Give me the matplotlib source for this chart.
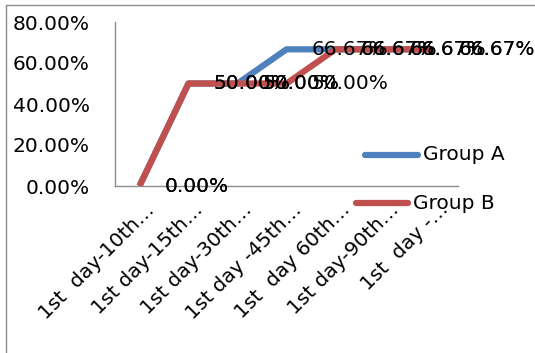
import matplotlib
matplotlib.use('Agg')
import matplotlib.pyplot as plt
from matplotlib.lines import Line2D
from matplotlib.transforms import ScaledTranslation

categories = ['1st  day-10th\u2026', '1st day-15th\u2026', '1st day-30th\u2026',
              '1st day -45th\u2026', '1st  day 60th\u2026', '1st day-90th\u2026',
              '1st  day -\u2026']
group_a = [0.0, 50.0, 50.0, 66.67, 66.67, 66.67, 66.67]
group_b = [0.0, 50.0, 50.0, 50.0, 66.67, 66.67, 66.67]
yticks = [0, 20, 40, 60, 80]

blue = '#4F81BD'
red = '#C0504D'
grey = '#8C8C8C'
fs = 14.5
lw = 4.5

W, H = 535, 353
fig = plt.figure(figsize=(W / 100, H / 100), dpi=100)
ax = fig.add_axes([115 / W, 1 - 186 / H, (458 - 115) / W, (186 - 22) / H])

x = list(range(len(categories)))
ax.plot(x, group_a, color=blue, lw=lw, solid_capstyle='butt', zorder=2)
ax.plot(x, group_b, color=red, lw=lw, solid_capstyle='butt', zorder=3)

# data labels on the right of each point
for series in (group_a, group_b):
    for xi, v in zip(x, series):
        ax.annotate('%.2f%%' % v, (xi, v), xytext=(18, 0), textcoords='offset points',
                    ha='left', va='center', fontsize=fs, color='black', zorder=5,
                    annotation_clip=False)

ax.set_xlim(-0.5, len(categories) - 0.5)
ax.set_ylim(0, 80)
ax.set_yticks(yticks)
ax.set_yticklabels(['%.2f%%' % t for t in yticks], fontsize=fs)
ax.set_xticks(x)
ax.set_xticklabels(categories, rotation=45, ha='right', va='top',
                   rotation_mode='anchor', fontsize=fs)
ax.tick_params(axis='both', length=0)
ax.tick_params(axis='y', pad=18)
ax.tick_params(axis='x', pad=10)
shift = ScaledTranslation(5 / 100, 0, fig.dpi_scale_trans)
for lab in ax.get_xticklabels():
    lab.set_transform(lab.get_transform() + shift)
for s in ('top', 'right'):
    ax.spines[s].set_visible(False)
for s in ('left', 'bottom'):
    ax.spines[s].set_color(grey)
    ax.spines[s].set_linewidth(1.0)

# legend entries
def px(xp, yp):
    return xp / W, 1 - yp / H

for (x0, x1, y, tx), label, col in [((365, 418, 155, 423), 'Group A', blue),
                                     ((356, 408, 203, 413), 'Group B', red)]:
    (fx0, fy), (fx1, _) = px(x0, y), px(x1, y)
    fig.add_artist(Line2D([fx0, fx1], [fy, fy], color=col, lw=lw, solid_capstyle='round'))
    fig.text(px(tx, y)[0], fy, label, fontsize=fs, va='center', ha='left')

# chart area border
fig.add_artist(Line2D([6 / W, 6 / W, 1], [0, 1 - 5 / H, 1 - 5 / H], color=grey, lw=1.0))

fig.savefig('out.png', dpi=100)
